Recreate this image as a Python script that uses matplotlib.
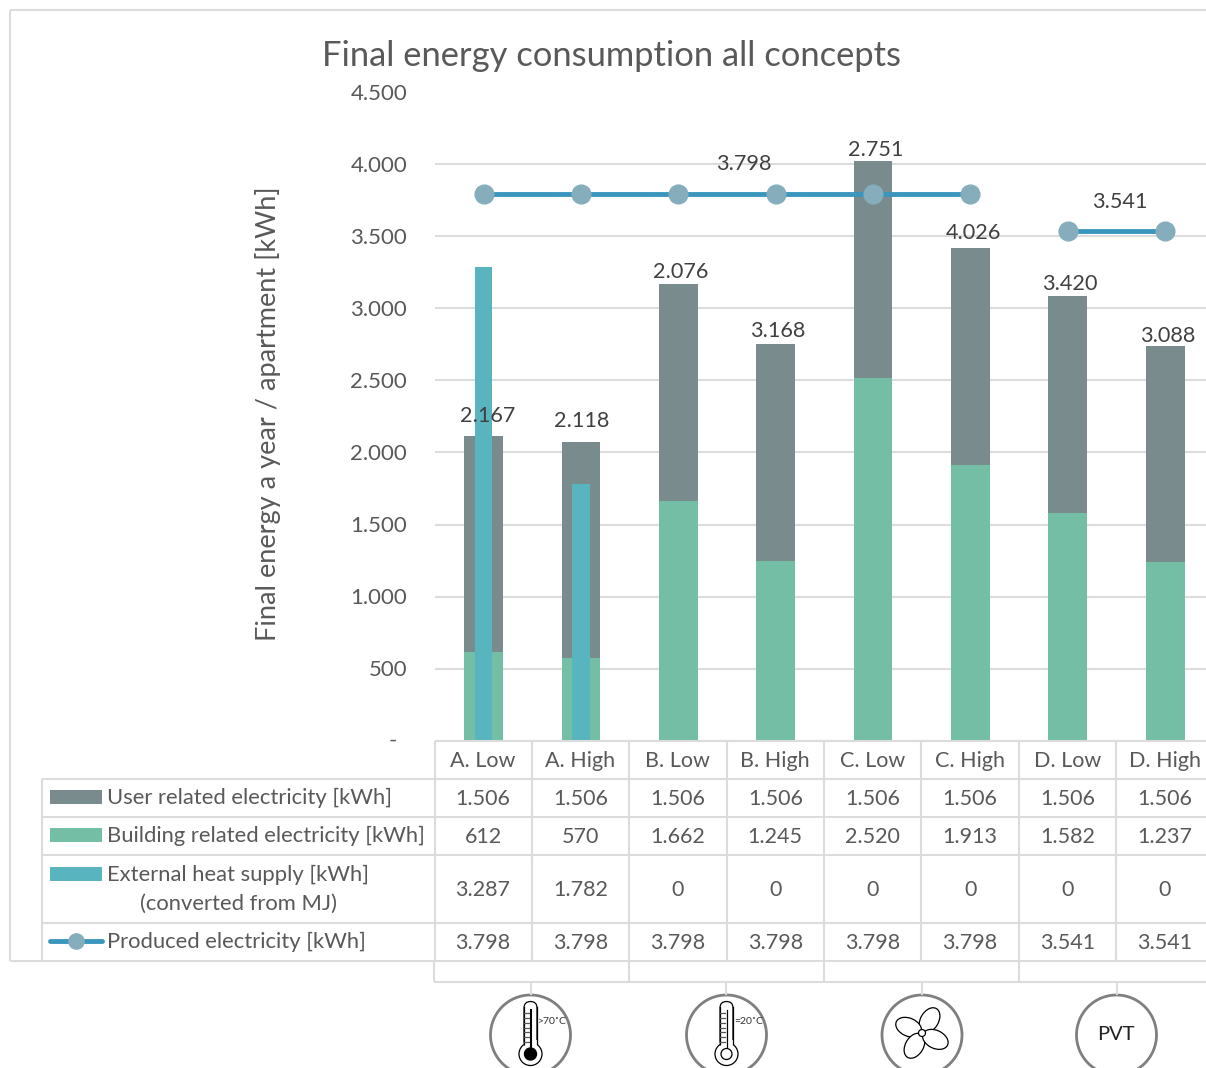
import matplotlib
matplotlib.use('Agg')
import matplotlib.pyplot as plt
from matplotlib.patches import Circle, Ellipse, FancyBboxPatch, Rectangle
from matplotlib.ticker import FuncFormatter
import numpy as np

plt.rcParams['font.family'] = ['Lato', 'DejaVu Sans']

concepts = ['A. Low', 'A. High', 'B. Low', 'B. High', 'C. Low', 'C. High', 'D. Low', 'D. High']
user_elec = [1506, 1506, 1506, 1506, 1506, 1506, 1506, 1506]
building_elec = [612, 570, 1662, 1245, 2520, 1913, 1582, 1237]
external_heat = [3287, 1782, 0, 0, 0, 0, 0, 0]
produced_elec = [3798, 3798, 3798, 3798, 3798, 3798, 3541, 3541]
total_labels = ['2.167', '2.118', '2.076', '3.168', '2.751', '4.026', '3.420', '3.088']
y_ticks = [0, 500, 1000, 1500, 2000, 2500, 3000, 3500, 4000, 4500]

GREY = '#dcdcdc'
TEXT = '#595959'
C_USER = '#7a8b8d'
C_BUILD = '#75bea6'
C_HEAT = '#58b5c0'
C_LINE = '#3a96bd'
C_MARK = '#86adbb'

W, H = 1206, 1068


def dotted(v):
    if v == 0:
        return '0'
    return f'{v:,.0f}'.replace(',', '.')


fig = plt.figure(figsize=(W / 100, H / 100), dpi=100)
fig.patch.set_facecolor('white')

# main chart
step = 97.43
x_left = -0.5
x_right = (W - 483) / step
ax = fig.add_axes([435 / W, (H - 740.5) / H, (W - 435) / W, 648 / H])
ax.set_xlim(x_left, x_right)
ax.set_ylim(0, 4500)
x = np.arange(len(concepts))
ax.bar(x, building_elec, 0.4, color=C_BUILD, zorder=2)
ax.bar(x, user_elec, 0.4, bottom=building_elec, color=C_USER, zorder=2)
ax.bar(x, external_heat, 0.175, color=C_HEAT, zorder=3)
for seg in (x[:6], x[6:]):
    ax.plot(seg, [produced_elec[i] for i in seg], color=C_LINE, lw=3.5, marker='o', ms=13.5,
            mfc=C_MARK, mec=C_MARK, zorder=4, solid_capstyle='round')
ax.set_yticks(y_ticks)
ax.yaxis.set_major_formatter(FuncFormatter(lambda v, p: '' if v == 0 else dotted(v)))
ax.set_xticks([])
ax.tick_params(axis='y', length=0, pad=20, labelsize=16, labelcolor=TEXT)
ax.grid(axis='y', color=GREY, lw=1.5, zorder=0)
ax.set_axisbelow(True)
for s in ax.spines.values():
    s.set_visible(False)

# labels, table and icons go on a pixel-scaled overlay
ov = fig.add_axes([0, 0, 1, 1], zorder=5)
ov.set_xlim(0, W)
ov.set_ylim(H, 0)
ov.axis('off')
ov.patch.set_alpha(0)


def hline(y, x0, x1=W):
    ov.plot([x0, x1], [y, y], color=GREY, lw=1.5, solid_capstyle='butt')


def vline(xp, y0, y1, color=GREY):
    ov.plot([xp, xp], [y0, y1], color=color, lw=1.5, solid_capstyle='butt')


ov.text(612, 56, 'Final energy consumption all concepts', ha='center', va='center', fontsize=24.8, color=TEXT)
ov.text(268, 414, 'Final energy a year / apartment [kWh]', ha='center', va='center', rotation=90,
        fontsize=19.5, color=TEXT)
ov.text(393, 741, '-', ha='center', va='center', fontsize=16, color=TEXT)

# data labels sit a bit off the bar tops
label_px = [(488, 416), (582, 421), (681, 272), (778, 331), (876, 150), (973, 233), (1070, 284), (1168, 336)]
for (lx, ly), s in zip(label_px, total_labels):
    ov.text(lx, ly, s, ha='center', va='center', fontsize=15.6, color='#404040')
ov.text(744, 164, dotted(produced_elec[0]), ha='center', va='center', fontsize=15.6, color='#404040')
ov.text(1120, 202, dotted(produced_elec[-1]), ha='center', va='center', fontsize=15.6, color='#404040')

# outer frame
hline(10, 10)
hline(961, 10)
vline(10, 10, 961)

# data table grid
hline(741, 435)
for yp in (779, 817, 855, 923):
    hline(yp, 42)
vline(42, 779, 961)
for xp in (435, 532, 629, 727, 824, 921, 1019, 1116):
    vline(xp, 741, 961)

# category group row
hline(982, 434)
for xp in (434, 629, 824, 1019):
    vline(xp, 961, 982)
for xp in (530.5, 726, 922, 1117):
    vline(xp, 982, 995)

# table rows
centers = [483 + step * i for i in range(len(concepts))]
rows = [(761, concepts), (799, user_elec), (837, building_elec), (890, external_heat), (943, produced_elec)]
for yp, vals in rows:
    for cx, v in zip(centers, vals):
        s = v if isinstance(v, str) else dotted(v)
        ov.text(cx, yp, s, ha='center', va='center', fontsize=15.5, color=TEXT, clip_on=True)

# legend keys inside the table
for yp, c in ((797, C_USER), (835, C_BUILD), (874, C_HEAT)):
    ov.add_patch(Rectangle((50, yp - 7), 52, 14, color=c, lw=0))
ov.plot([50, 102], [941, 941], color=C_LINE, lw=3.5, solid_capstyle='round')
ov.plot([76], [941], 'o', ms=11, color=C_MARK)
ov.text(107, 798, 'User related electricity [kWh]', va='center', fontsize=15.85, color=TEXT)
ov.text(107, 836, 'Building related electricity [kWh]', va='center', fontsize=15.85, color=TEXT)
ov.text(107, 875, 'External heat supply [kWh]', va='center', fontsize=15.85, color=TEXT)
ov.text(239, 904, '(converted from MJ)', ha='center', va='center', fontsize=15.85, color=TEXT)
ov.text(107, 942, 'Produced electricity [kWh]', va='center', fontsize=15.85, color=TEXT)


def thermometer(cx, filled, note):
    ov.add_patch(Circle((cx, 1035), 40, fill=False, ec='#7f7f7f', lw=2))
    ov.add_patch(Circle((cx, 1054), 11.5, fc='white', ec='black', lw=0.9, zorder=3))
    ov.add_patch(FancyBboxPatch((cx - 6.5, 1001.5), 13, 46, boxstyle='round,pad=0,rounding_size=6.5',
                                fc='white', ec='black', lw=0.9, zorder=4))
    ov.add_patch(Rectangle((cx - 6, 1040), 12, 10, fc='white', ec='none', zorder=5))
    ov.plot([cx - 6.5, cx - 6.5], [1007, 1044], color='black', lw=0.9, zorder=5)
    ov.plot([cx + 6.5, cx + 6.5], [1007, 1044], color='black', lw=0.9, zorder=5)
    ov.plot([cx, cx], [1010, 1050], color='black', lw=1.5 if filled else 0.9, zorder=6)
    for yp in np.linspace(1013, 1042, 7):
        ov.plot([cx - 6.5, cx - 2], [yp, yp], color='#555555', lw=0.9, zorder=6)
    if filled:
        ov.add_patch(Circle((cx, 1054), 6, color='black', zorder=7))
    else:
        ov.add_patch(Circle((cx, 1054), 5.5, fc='white', ec='black', lw=0.9, zorder=7))
    ov.text(cx + 22, 1022, note, ha='center', va='center', fontsize=7.5, color='#333333', zorder=8)


thermometer(530.5, True, '>70˚C')
thermometer(726.5, False, '=20˚C')

# fan icon
fan = (922, 1033)
ov.add_patch(Circle((922, 1035), 40, fill=False, ec='#7f7f7f', lw=2))
for dx, dy in ((13, -22), (-23, -10), (-13, 22), (23, 11)):
    ang = np.degrees(np.arctan2(dy, dx))
    ov.add_patch(Ellipse((fan[0] + dx * 0.58, fan[1] + dy * 0.58), 27, 18, angle=ang,
                         fc='white', ec='black', lw=0.9))
ov.add_patch(Circle(fan, 3.5, fc='white', ec='black', lw=0.9, zorder=3))

# PVT icon
ov.add_patch(Circle((1116.5, 1035), 40, fill=False, ec='#7f7f7f', lw=2))
ov.text(1115.5, 1034, 'PVT', ha='center', va='center', fontsize=14.5, color='#222222')

fig.savefig('out.png', dpi=100)
